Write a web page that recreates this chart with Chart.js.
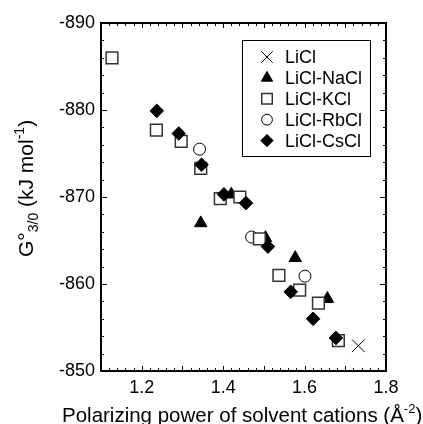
<!DOCTYPE html>
<html lang="en">
<head>
<meta charset="UTF-8">
<title>G°3/0 vs polarizing power</title>
<script src="https://cdn.jsdelivr.net/npm/chart.js"></script>
<style>
  html, body { margin: 0; padding: 0; background: #fff; }
  #wrap { width: 423px; height: 424px; position: relative; }
</style>
</head>
<body>
<div id="wrap"><canvas id="gChart"></canvas></div>
<script>
// x: polarizing power of solvent cations (Å^-2), y: G°3/0 (kJ/mol)
const seriesNames = ['LiCl', 'LiCl-NaCl', 'LiCl-KCl', 'LiCl-RbCl', 'LiCl-CsCl'];

const liclX = [1.732];
const liclY = [-852.9];

const naclX = [1.345, 1.420, 1.504, 1.577, 1.656];
const naclY = [-867.0, -870.3, -865.3, -863.0, -858.3];

const kclX = [1.127, 1.236, 1.297, 1.345, 1.393, 1.441, 1.489, 1.537, 1.588, 1.634, 1.683];
const kclY = [-886.0, -877.7, -876.4, -873.3, -869.8, -870.0, -865.2, -861.0, -859.3, -857.8, -853.5];

const rbclX = [1.342, 1.470, 1.601];
const rbclY = [-875.5, -865.4, -860.9];

const csclX = [1.237, 1.291, 1.347, 1.402, 1.456, 1.510, 1.566, 1.621, 1.677];
const csclY = [-879.9, -877.3, -873.7, -870.3, -869.3, -864.3, -859.1, -856.0, -853.8];

const xTicks = [1.2, 1.4, 1.6, 1.8];
const yTicks = [-890, -880, -870, -860, -850];

const FONT = "'Liberation Sans', Arial, Helvetica, sans-serif";

function pts(xs, ys) {
    return xs.map((x, i) => ({ x: x, y: ys[i] }));
}

// frame + inward ticks on all four sides, titles and the boxed legend
const frameTicks = {
    id: 'frameTicks',
    beforeDatasetsDraw(chart) {
        const { ctx, chartArea: a, scales } = chart;
        const x = scales.x, y = scales.y;
        ctx.save();
        ctx.strokeStyle = '#000';
        ctx.lineWidth = 1;
        ctx.beginPath();
        for (let i = 0; ; i++) {
            const v = x.min + i * 0.02;
            if (v > x.max + 1e-9) break;
            const len = (i % 5 === 0) ? 5 : 3;
            const px = Math.round(x.getPixelForValue(v)) + 0.5;
            ctx.moveTo(px, a.bottom); ctx.lineTo(px, a.bottom - len);
            ctx.moveTo(px, a.top); ctx.lineTo(px, a.top + len);
        }
        for (let v = y.min; v <= y.max; v += 2) {
            const len = (v % 10 === 0) ? 6 : 3;
            const py = Math.round(y.getPixelForValue(v)) + 0.5;
            ctx.moveTo(a.left, py); ctx.lineTo(a.left + len, py);
            ctx.moveTo(a.right, py); ctx.lineTo(a.right - len, py);
        }
        ctx.stroke();
        ctx.lineWidth = 2;
        ctx.strokeRect(a.left, a.top, a.right - a.left, a.bottom - a.top);
        ctx.restore();
    },
    afterDraw(chart) {
        const ctx = chart.ctx;
        ctx.save();
        ctx.fillStyle = '#000';
        ctx.textAlign = 'left';
        ctx.textBaseline = 'alphabetic';

        // y title, rotated
        ctx.save();
        ctx.translate(33, 257);
        ctx.rotate(-Math.PI / 2);
        let cx = 0;
        const part = (t, size, dy) => {
            ctx.font = size + 'px ' + FONT;
            ctx.fillText(t, cx, dy);
            cx += ctx.measureText(t).width;
        };
        part('G°', 21, 0);
        part('3/0', 14, 5);
        part(' (kJ mol', 21, 0);
        part('-1', 14, -9);
        part(')', 21, 0);
        ctx.restore();

        // x title
        cx = 62;
        const xpart = (t, size, dy) => {
            ctx.font = size + 'px ' + FONT;
            ctx.fillText(t, cx, 422 + dy);
            cx += ctx.measureText(t).width;
        };
        xpart('Polarizing power of solvent cations (Å', 20.5, 0);
        xpart('-2', 13, -9);
        xpart(')', 20.5, 0);

        // legend box
        ctx.lineWidth = 1;
        ctx.strokeStyle = '#000';
        ctx.strokeRect(242.5, 40.5, 128, 116);
        ctx.font = '18px ' + FONT;
        ctx.textBaseline = 'middle';
        chart.data.datasets.forEach((ds, i) => {
            const ly = 57 + i * 20.9;
            ctx.fillStyle = ds.pointBackgroundColor;
            ctx.strokeStyle = ds.pointBorderColor;
            ctx.lineWidth = ds.pointBorderWidth;
            Chart.helpers.drawPoint(ctx, {
                pointStyle: ds.pointStyle, radius: ds.pointRadius * 0.9,
                rotation: 0, borderWidth: ds.pointBorderWidth
            }, 267, ly);
            ctx.fillStyle = '#000';
            ctx.fillText(ds.label, 285, ly + 1);
        });
        ctx.restore();
    }
};

new Chart(document.getElementById('gChart'), {
    type: 'scatter',
    data: {
        datasets: [
            {
                label: seriesNames[0], data: pts(liclX, liclY), order: 0,
                pointStyle: 'crossRot', pointRadius: 9,
                pointBackgroundColor: '#000', pointBorderColor: '#000', pointBorderWidth: 1
            },
            {
                label: seriesNames[1], data: pts(naclX, naclY), order: 4,
                pointStyle: 'triangle', pointRadius: 7.2,
                pointBackgroundColor: '#000', pointBorderColor: '#000', pointBorderWidth: 1
            },
            {
                label: seriesNames[2], data: pts(kclX, kclY), order: 2,
                pointStyle: 'rect', pointRadius: 8.3,
                pointBackgroundColor: '#fff', pointBorderColor: '#333', pointBorderWidth: 1.5
            },
            {
                label: seriesNames[3], data: pts(rbclX, rbclY), order: 3,
                pointStyle: 'circle', pointRadius: 6,
                pointBackgroundColor: '#fff', pointBorderColor: '#000', pointBorderWidth: 1
            },
            {
                label: seriesNames[4], data: pts(csclX, csclY), order: 1,
                pointStyle: 'rectRot', pointRadius: 6.8,
                pointBackgroundColor: '#000', pointBorderColor: '#000', pointBorderWidth: 1
            }
        ]
    },
    options: {
        responsive: true,
        maintainAspectRatio: false,
        animation: false,
        events: [],
        layout: { padding: { left: 0, top: 23, right: 37, bottom: 0 } },
        plugins: {
            legend: { display: false },
            tooltip: { enabled: false }
        },
        scales: {
            x: {
                type: 'linear', min: 1.1, max: 1.8,
                grid: { display: false, drawTicks: false },
                border: { display: false },
                afterBuildTicks: s => { s.ticks = xTicks.map(v => ({ value: v })); },
                afterFit: s => { s.height = 53; },
                ticks: {
                    color: '#000', padding: 6, maxRotation: 0,
                    font: { family: FONT, size: 18 },
                    callback: v => v.toFixed(1)
                }
            },
            y: {
                type: 'linear', min: -890, max: -850, reverse: true,
                grid: { display: false, drawTicks: false },
                border: { display: false },
                afterBuildTicks: s => { s.ticks = yTicks.map(v => ({ value: v })); },
                afterFit: s => { s.width = 101; },
                ticks: {
                    color: '#000', padding: 6,
                    font: { family: FONT, size: 18 },
                    callback: v => String(v)
                }
            }
        }
    },
    plugins: [frameTicks]
});
</script>
</body>
</html>
